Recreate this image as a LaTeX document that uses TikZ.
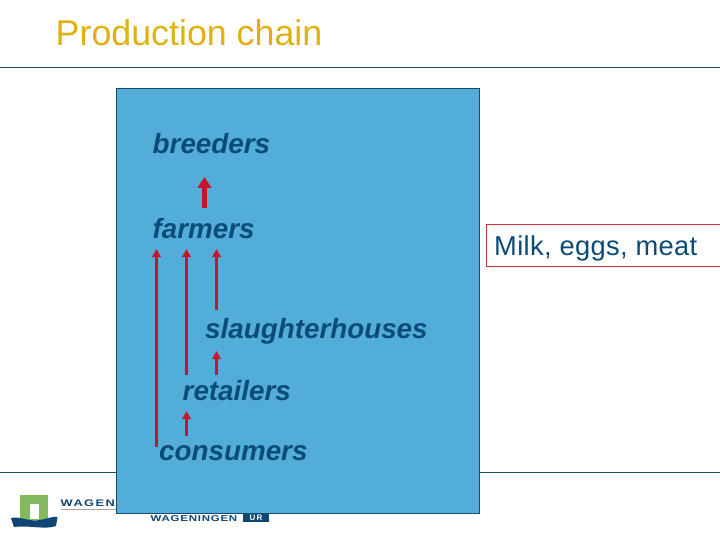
\documentclass[tikz,border=0pt]{standalone}
\usepackage{fontspec}
\setmainfont{Liberation Sans}
\usetikzlibrary{arrows.meta}
\definecolor{titlegold}{RGB}{222,178,20}
\definecolor{rulecol}{RGB}{20,80,105}
\definecolor{panelblue}{RGB}{82,174,216}
\definecolor{paneledge}{RGB}{20,75,110}
\definecolor{navytext}{RGB}{10,75,120}
\definecolor{arrowred}{RGB}{200,20,40}
\definecolor{boxred}{RGB}{200,50,60}
\definecolor{logogreen}{RGB}{130,185,95}
\definecolor{logonavy}{RGB}{15,70,115}
\tikzset{
  x=1pt,y=-1pt,
  chainlabel/.style={anchor=base west,inner sep=0pt,text=navytext,font=\fontsize{27.8}{30}\selectfont\bfseries\itshape},
  thinarrow/.style={draw=arrowred,line width=3pt,-{Triangle[length=8pt,width=8.5pt,fill=arrowred]}},
  fatarrow/.style={draw=arrowred,line width=4.5pt,-{Triangle[length=11pt,width=13.5pt,fill=arrowred]}},
  brand/.style={anchor=base west,inner sep=0pt,text=logonavy,font=\fontsize{9.5}{10}\selectfont\bfseries},
}
\begin{document}
\begin{tikzpicture}
\useasboundingbox (0,0) rectangle (720,540);
\fill[white] (0,0) rectangle (720,540);
\node[anchor=base west,inner sep=0pt,text=titlegold,font=\fontsize{35.8}{38}\selectfont] (title) at (55.5,46) {Production chain};
\draw[rulecol,line width=0.9pt] (0,67.5) -- (720,67.5);
\draw[rulecol,line width=0.9pt] (0,472.5) -- (720,472.5);
% logo
\fill[logogreen] (20,495) rectangle (48,520);
\fill[white] (29.5,504) rectangle (39,519);
\fill[logonavy] (11,518) .. controls (20,516) and (30,522) .. (40,520) .. controls (47,519) and (52,516) .. (57.5,517) -- (56,526) .. controls (45,530) and (30,525) .. (14,527) -- cycle;
\node[brand] (brandleft) at (60.5,506) {\addfontfeatures{FakeStretch=1.35,LetterSpace=15}WAGEN};
\draw[gray!70,line width=0.6pt] (61,509.5) -- (118,509.5);
\node[brand,font=\fontsize{8.5}{10}\selectfont\bfseries] (brandmid) at (150.5,521) {\addfontfeatures{FakeStretch=1.35,LetterSpace=9}WAGENINGEN};
\node[fill=logonavy,text=white,inner sep=0pt,minimum width=26pt,minimum height=8.5pt,font=\fontsize{8}{9}\selectfont\bfseries] (brandur) at (256,518) {U\,R};
% panel
\node[draw=paneledge,fill=panelblue,line width=0.9pt,inner sep=0pt,minimum width=363pt,minimum height=425pt] (panel) at (298,301) {};
% labels
\node[chainlabel] (breeders) at (152.5,154) {breeders};
\node[chainlabel] (farmers) at (152.5,238) {farmers};
\node[chainlabel] (slaughter) at (205,338) {slaughterhouses};
\node[chainlabel] (retailers) at (182.5,400) {retailers};
\node[chainlabel] (consumers) at (159,460) {consumers};
% arrow ends
\coordinate (a1s) at (204.5,208); \coordinate (a1e) at (204.5,177);
\coordinate (a2s) at (156.5,447); \coordinate (a2e) at (156.5,249);
\coordinate (a3s) at (186.5,375); \coordinate (a3e) at (186.5,249);
\coordinate (a4s) at (216.5,310); \coordinate (a4e) at (216.5,249);
\coordinate (a5s) at (216.5,375); \coordinate (a5e) at (216.5,351);
\coordinate (a6s) at (186.5,436); \coordinate (a6e) at (186.5,411);
\draw[fatarrow] (a1s) -- (a1e);
\draw[thinarrow] (a2s) -- (a2e);
\draw[thinarrow] (a3s) -- (a3e);
\draw[thinarrow] (a4s) -- (a4e);
\draw[thinarrow] (a5s) -- (a5e);
\draw[thinarrow] (a6s) -- (a6e);
% box
\draw[boxred,line width=0.9pt] (721,224.5) -- (486.5,224.5) -- (486.5,266.5) -- (721,266.5);
\node[anchor=base west,inner sep=0pt,text=navytext,font=\fontsize{27.3}{30}\selectfont] (products) at (494,255) {\addfontfeatures{LetterSpace=1.2}Milk, eggs, meat};
\end{tikzpicture}
\end{document}
